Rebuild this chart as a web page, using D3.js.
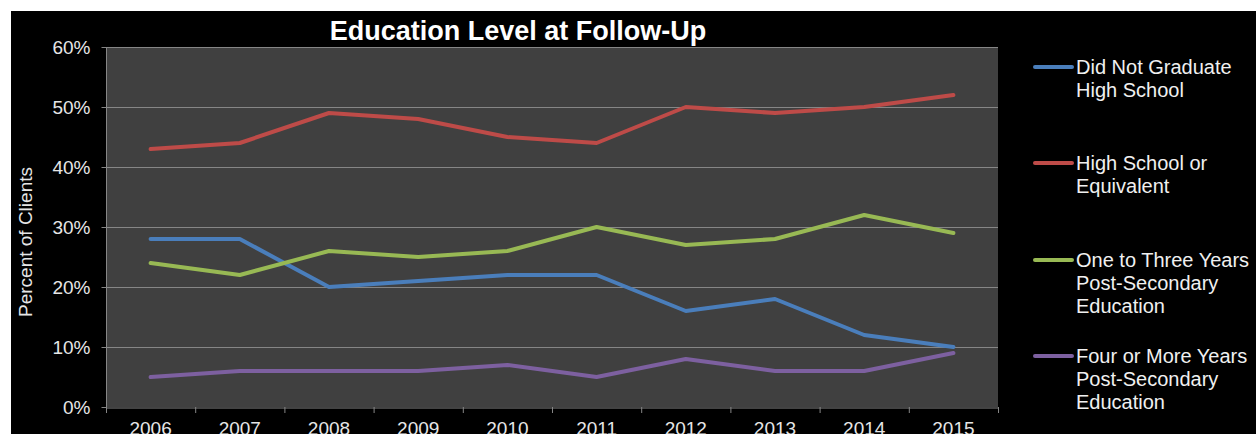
<!DOCTYPE html>
<html><head><meta charset="utf-8">
<script src="https://cdn.jsdelivr.net/npm/d3@7"></script>
<style>html,body{margin:0;padding:0;background:#fff;overflow:hidden}</style>
</head><body><svg id="c" width="1256" height="434"></svg>
<script>
const years = ["2006","2007","2008","2009","2010","2011","2012","2013","2014","2015"];
const seriesNames = [["Did Not Graduate","High School"],["High School or","Equivalent"],["One to Three Years","Post-Secondary","Education"],["Four or More Years","Post-Secondary","Education"]];
const didNotGraduate = [28,28,20,21,22,22,16,18,12,10];
const highSchool = [43,44,49,48,45,44,50,49,50,52];
const oneToThree = [24,22,26,25,26,30,27,28,32,29];
const fourOrMore = [5,6,6,6,7,5,8,6,6,9];
const colors = ["#4A7EBB","#BE4B48","#98B954","#7D60A0"];
const yTicks = [0,10,20,30,40,50,60];

const svg = d3.select("#c");
const font = "'Liberation Sans', Arial, sans-serif";
const txt = "#e6e6e6";
svg.append("rect").attr("x",11).attr("y",11).attr("width",1245).attr("height",423).attr("fill","#000");

const L=106,R=998,T=47,B=407;
const x = d3.scaleBand().domain(years).range([L,R]);
const y = d3.scaleLinear().domain([0,60]).range([B,T]);

svg.append("rect").attr("x",L).attr("y",T).attr("width",R-L).attr("height",B-T).attr("fill","#404040");

// gridlines
svg.append("g").selectAll("line").data(yTicks.filter(d=>d>0)).join("line")
  .attr("x1",L).attr("x2",R).attr("y1",d=>y(d)+0.5).attr("y2",d=>y(d)+0.5)
  .attr("stroke","#868686").attr("stroke-width",1);

// y axis
const ya = svg.append("g").attr("transform",`translate(${L+0.5},0)`)
  .call(d3.axisLeft(y).tickValues(yTicks).tickFormat(d=>d+"%").tickSize(5).tickPadding(11));
ya.select(".domain").attr("stroke","#868686").attr("d",`M0,${T}V${B}`);
ya.selectAll(".tick line").attr("stroke","#868686");
ya.selectAll("text").attr("fill",txt).style("font-family",font).style("font-size","19px");

// x axis
const xa = svg.append("g").attr("transform",`translate(0,${B+0.5})`)
  .call(d3.axisBottom(x).tickSize(0).tickPadding(14));
xa.select(".domain").attr("stroke","#868686");
xa.selectAll("text").attr("fill",txt).style("font-family",font).style("font-size","19px");
svg.append("g").selectAll("line").data(years.concat(["end"])).join("line")
  .attr("x1",(d,i)=>L+i*x.step()+0.5).attr("x2",(d,i)=>L+i*x.step()+0.5)
  .attr("y1",B).attr("y2",B+6).attr("stroke","#868686");

// lines
const data=[didNotGraduate,highSchool,oneToThree,fourOrMore];
const line = d3.line().x((d,i)=>x(years[i])+x.bandwidth()/2).y(d=>y(d));
svg.append("g").selectAll("path").data(data).join("path")
  .attr("d",line).attr("fill","none").attr("stroke",(d,i)=>colors[i])
  .attr("stroke-width",4).attr("stroke-linejoin","round").attr("stroke-linecap","round");

// title
svg.append("text").attr("x",518).attr("y",40).attr("text-anchor","middle")
  .attr("fill","#fff").style("font-family",font).style("font-weight","bold").style("font-size","27px")
  .text("Education Level at Follow-Up");

// y title
svg.append("text").attr("transform","translate(32,242) rotate(-90)").attr("text-anchor","middle")
  .attr("fill",txt).style("font-family",font).style("font-size","19px").text("Percent of Clients");

// legend
const legY=[67,163,260,356];
const lg = svg.append("g").selectAll("g").data(seriesNames).join("g");
lg.append("line").attr("x1",1035).attr("x2",1072).attr("y1",(d,i)=>legY[i]).attr("y2",(d,i)=>legY[i])
  .attr("stroke",(d,i)=>colors[i]).attr("stroke-width",4).attr("stroke-linecap","round");
lg.each(function(d,i){
  const t=d3.select(this).append("text").attr("fill","#f0f0f0").style("font-family",font).style("font-size","20px");
  d.forEach((s,j)=>t.append("tspan").attr("x",1076).attr("y",legY[i]+6.5+j*23.4).text(s));
});
</script></body></html>
